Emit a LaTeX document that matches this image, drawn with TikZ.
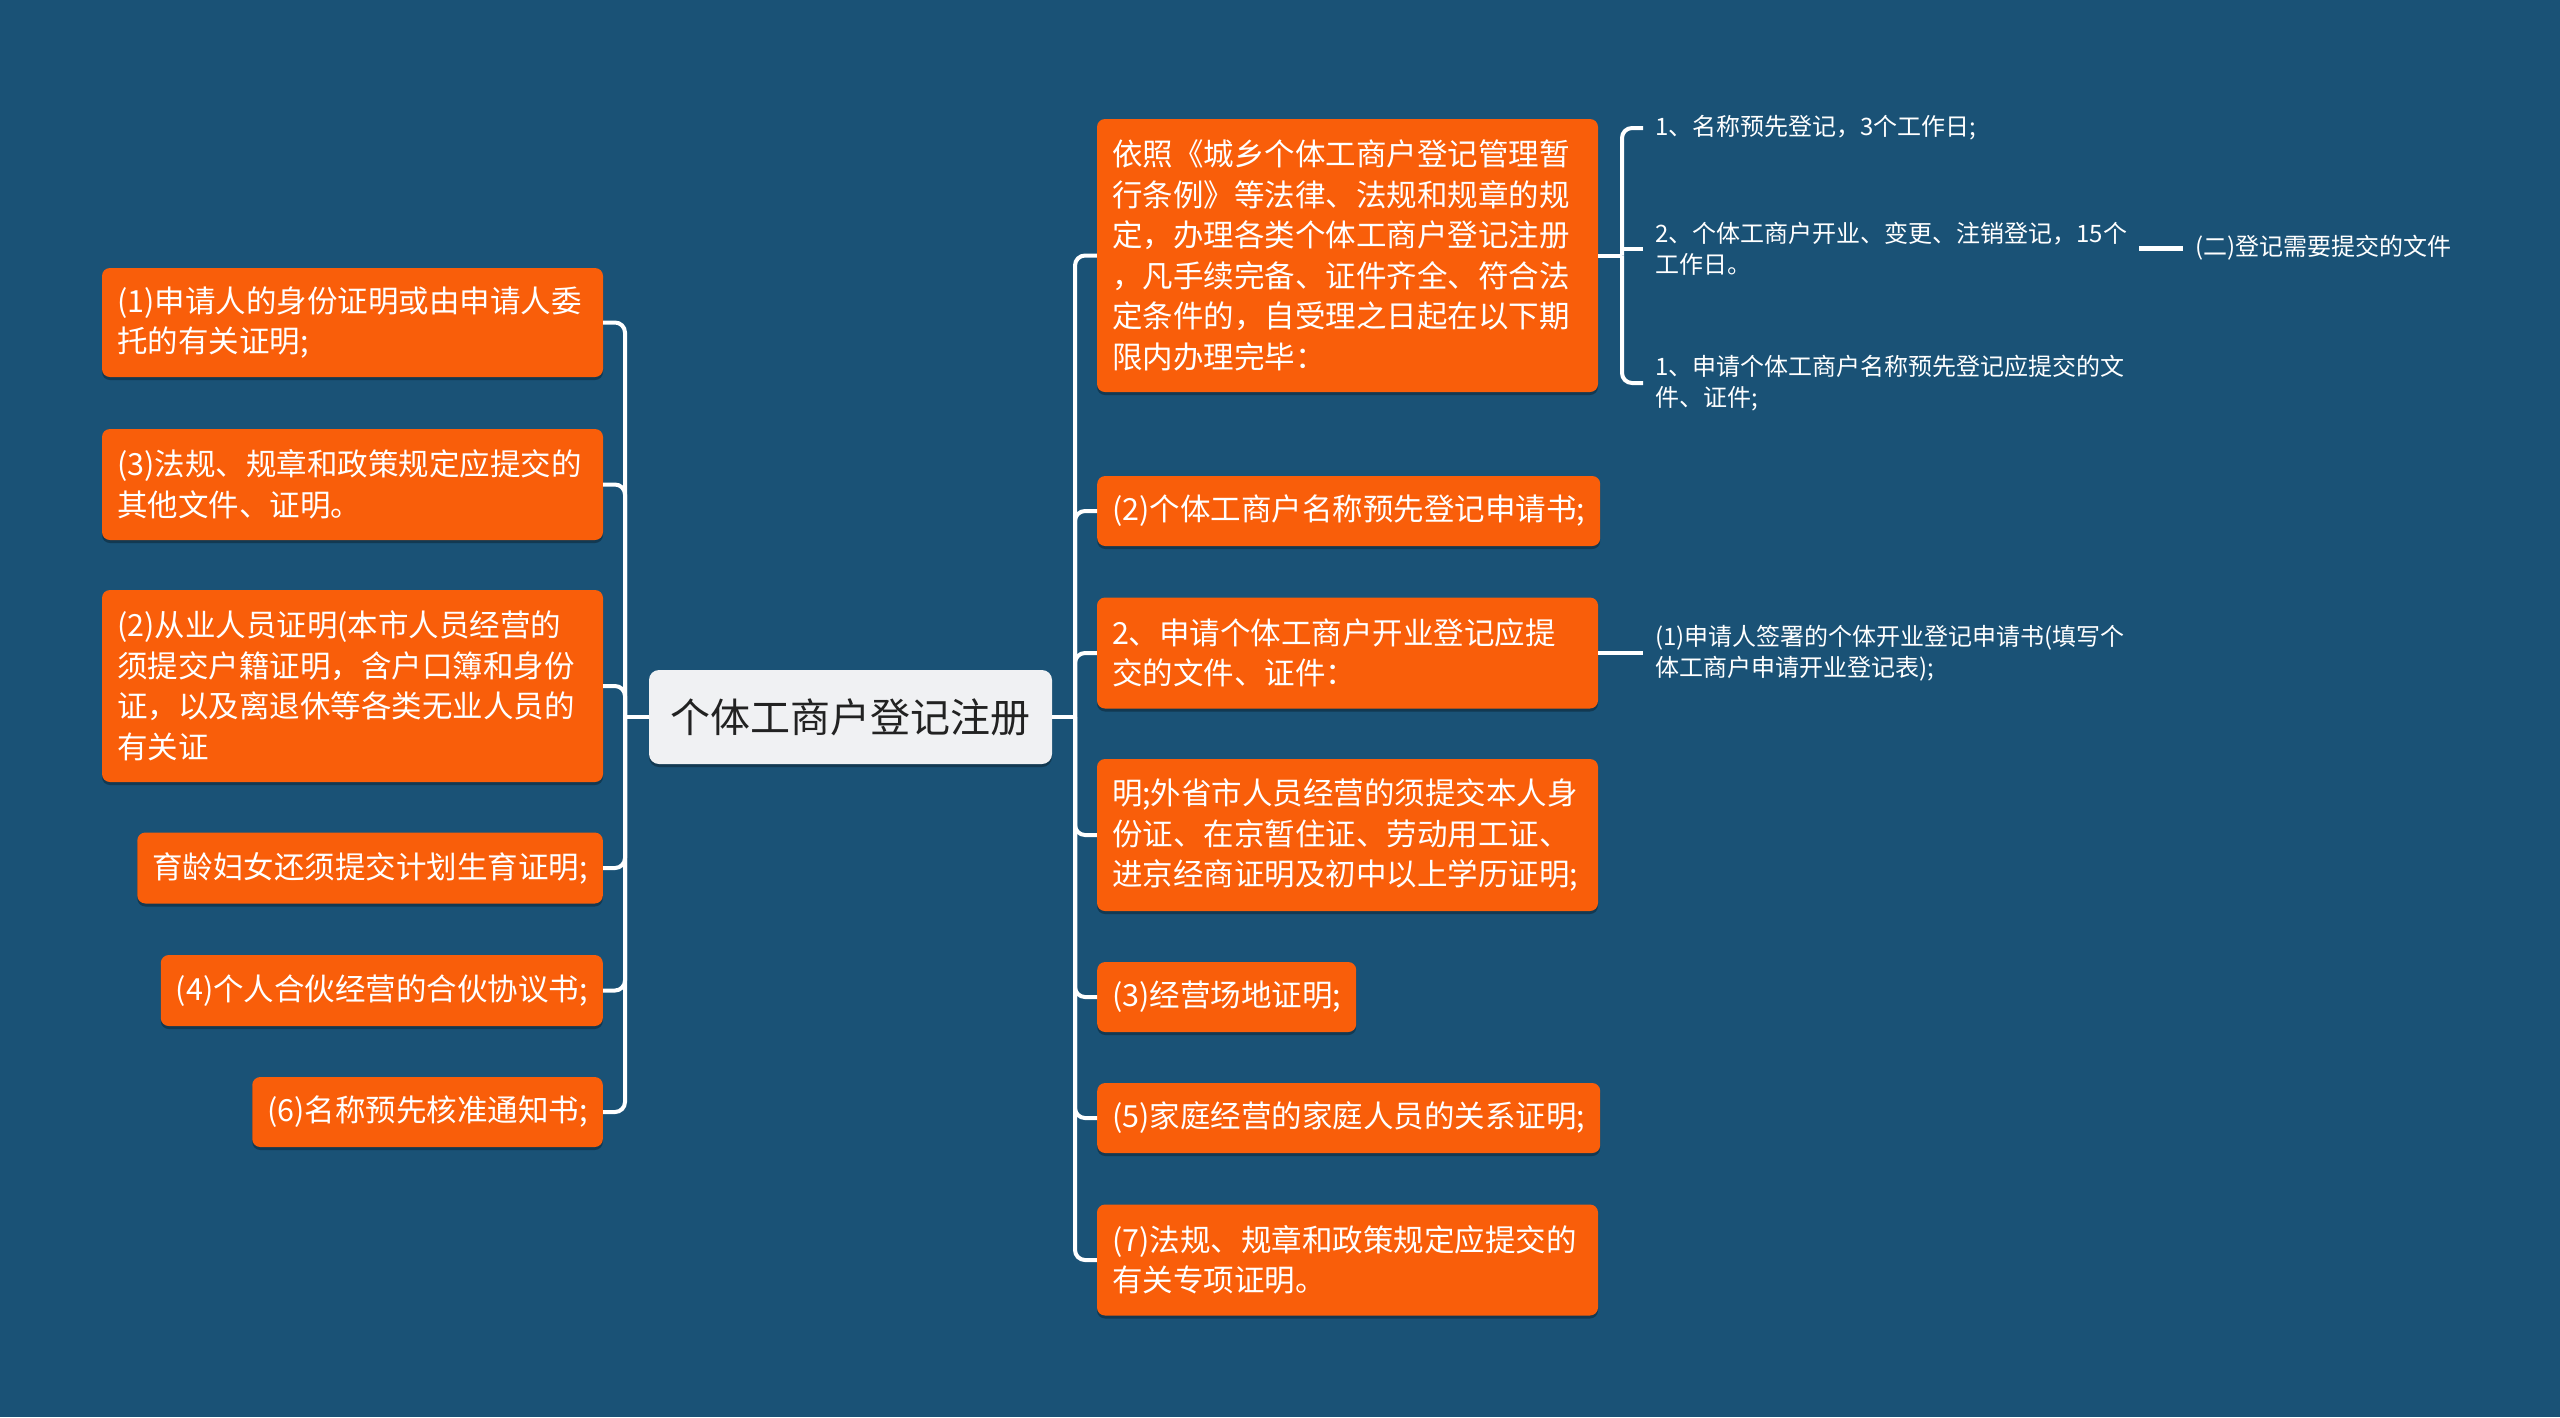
\documentclass[tikz,border=0pt]{standalone}
\usepackage{fontspec}
\setmainfont{Noto Sans CJK SC}
\usetikzlibrary{shadows}
\definecolor{bg}{RGB}{26,82,118}
\definecolor{org}{RGB}{249,94,10}
\definecolor{ctrfill}{RGB}{240,241,243}
\definecolor{ctrtext}{RGB}{34,34,34}
\begin{document}
\begin{tikzpicture}[x=1pt,y=-1pt,
  box/.style={fill=org, text=white, rounded corners=8pt,
    font=\fontsize{30.5}{40.5}\selectfont, inner xsep=15pt, inner ysep=4pt, align=left,
    drop shadow={shadow xshift=0pt,shadow yshift=-3pt,opacity=0.3,fill=black}},
  wbox/.style={box, text width=471pt},
  leaf/.style={text=white, font=\fontsize{24}{31}\selectfont, inner xsep=12pt, inner ysep=2pt, align=left, anchor=west},
  conn/.style={draw=white, line width=4pt, rounded corners=10pt}]
\fill[bg] (0,0) rectangle (2560,1417);
\useasboundingbox (0,0) rectangle (2560,1417);

% center
\node[fill=ctrfill, text=ctrtext, rounded corners=10pt, minimum width=403pt, minimum height=94pt,
  font=\fontsize{40}{48}\selectfont,
  drop shadow={shadow xshift=0pt,shadow yshift=-3pt,opacity=0.3,fill=black}] (C) at (850.5,717) {个体工商户登记注册};

% left nodes
\node[wbox, minimum height=109pt] (L1) at (352.5,322.5) {(1)申请人的身份证明或由申请人委\\托的有关证明;};
\node[wbox, minimum height=111pt] (L2) at (352.5,484.5) {(3)法规、规章和政策规定应提交的\\其他文件、证明。};
\node[wbox, minimum height=192pt] (L3) at (352.5,686) {(2)从业人员证明(本市人员经营的\\须提交户籍证明，含户口簿和身份\\证，以及离退休等各类无业人员的\\有关证};
\node[box, minimum height=71pt, anchor=east] (L4) at (603,868) {育龄妇女还须提交计划生育证明;};
\node[box, minimum height=71pt, anchor=east] (L5) at (603,990.5) {(4)个人合伙经营的合伙协议书;};
\node[box, minimum height=70pt, anchor=east] (L6) at (603,1112) {(6)名称预先核准通知书;};

% right nodes
\node[wbox, minimum height=273pt] (R1) at (1347.5,255.5) {依照《城乡个体工商户登记管理暂\\行条例》等法律、法规和规章的规\\定，办理各类个体工商户登记注册\\，凡手续完备、证件齐全、符合法\\定条件的，自受理之日起在以下期\\限内办理完毕：};
\node[box, minimum height=70pt, anchor=west] (R2) at (1097,511) {(2)个体工商户名称预先登记申请书;};
\node[wbox, minimum height=111pt] (R3) at (1347.5,653) {2、申请个体工商户开业登记应提\\交的文件、证件：};
\node[wbox, minimum height=152pt] (R4) at (1347.5,835) {明;外省市人员经营的须提交本人身\\份证、在京暂住证、劳动用工证、\\进京经商证明及初中以上学历证明;};
\node[box, minimum height=70pt, anchor=west] (R5) at (1097,997) {(3)经营场地证明;};
\node[box, minimum height=70pt, anchor=west] (R6) at (1097,1118) {(5)家庭经营的家庭人员的关系证明;};
\node[wbox, minimum height=111pt] (R7) at (1347.5,1260) {(7)法规、规章和政策规定应提交的\\有关专项证明。};

% leaves
\node[leaf] (T1) at (1643,128) {1、名称预先登记，3个工作日;};
\node[leaf] (T2) at (1643,249) {2、个体工商户开业、变更、注销登记，15个\\工作日。};
\node[leaf] (T3) at (1643,383) {1、申请个体工商户名称预先登记应提交的文\\件、证件;};
\node[leaf] (T4) at (1643,653) {(1)申请人签署的个体开业登记申请书(填写个\\体工商户申请开业登记表);};
\node[leaf] (T5) at (2183,248) {(二)登记需要提交的文件};

% connectors left
\coordinate (lb) at (625,717);
\foreach \n in {L1,L2,L3,L4,L5,L6} \draw[conn] (\n.east) -| (lb);
\draw[conn] (lb) -- (C.west);

% connectors right
\coordinate (rb) at (1075,717);
\draw[conn] (C.east) -- (rb);
\foreach \n in {R1,R2,R3,R4,R5,R6,R7} \draw[conn] (rb) |- (\n.west);

% R1 bracket
\coordinate (bk) at (1622,255.5);
\draw[conn] (R1.east) -- (bk);
\draw[conn] (bk) |- (T1.west);
\draw[conn] (bk) |- (T3.west);
\draw[conn] (bk |- T2.west) -- (T2.west);
\draw[conn, line width=5pt] (T2.east |- T5.west) -- (T5.west);
\draw[conn] (R3.east) -- (T4.west);
\end{tikzpicture}
\end{document}
